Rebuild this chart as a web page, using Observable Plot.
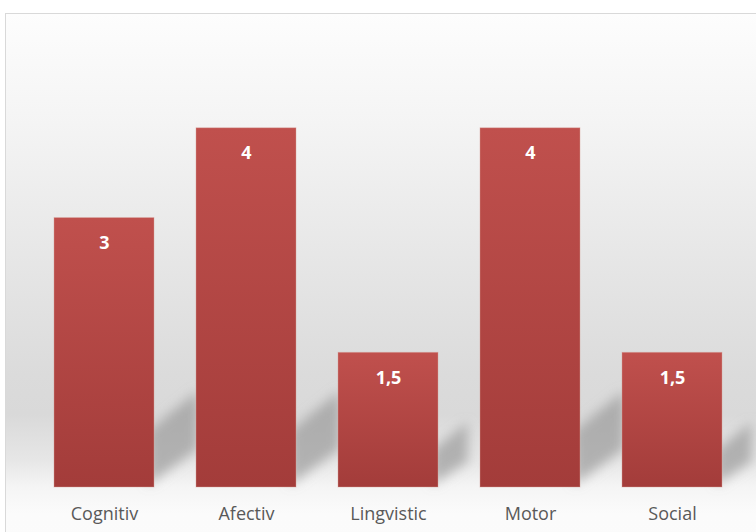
<!DOCTYPE html>
<html>
<head>
<meta charset="utf-8">
<script src="https://cdn.jsdelivr.net/npm/d3@7"></script>
<script src="https://cdn.jsdelivr.net/npm/@observablehq/plot@0.6"></script>
<style>
  html, body { margin: 0; padding: 0; background: #fff; overflow: hidden; }
  #frame {
    position: absolute; left: 5px; top: 13px; width: 800px; height: 600px;
    border: 1px solid #d9d9d9;
    background: linear-gradient(to bottom, #fdfdfd 0px, #f4f4f4 110px, #e6e6e6 250px, #dbdbdb 360px, #d9d9d9 400px, #e6e6e6 445px, #f5f5f5 474px, #fbfbfb 500px, #fcfcfc 100%);
  }
  #chart { position: absolute; left: 0; top: 0; }
</style>
</head>
<body>
<div id="frame"></div>
<div id="chart"></div>
<script>
const categories = ["Cognitiv", "Afectiv", "Lingvistic", "Motor", "Social"];
const values = [3, 4, 1.5, 4, 1.5];
const valueLabels = ["3", "4", "1,5", "4", "1,5"];

const data = categories.map((c, i) => ({cat: c, v: values[i], lab: valueLabels[i]}));

const font = "'Open Sans', Lato, 'DejaVu Sans', sans-serif";

function shadows(index, scales, vals, dims) {
  const ns = "http://www.w3.org/2000/svg";
  const g = document.createElementNS(ns, "g");
  const defs = document.createElementNS(ns, "defs");
  defs.innerHTML = `
    <filter id="shblur" x="-50%" y="-50%" width="200%" height="200%"><feGaussianBlur stdDeviation="6"/></filter>
    <linearGradient id="barGrad" x1="0" y1="0" x2="0" y2="1">
      <stop offset="0" stop-color="#c0504d"/>
      <stop offset="1" stop-color="#a33c3a"/>
    </linearGradient>`;
  g.appendChild(defs);
  const x = scales.x, y = scales.y;
  const bw = x.bandwidth ? x.bandwidth() : (typeof x.bandwidth === "number" ? x.bandwidth : 100);
  data.forEach(d => {
    const x1 = x(d.cat) + bw;
    const y0 = y(0);
    const h = y0 - y(d.v);
    const s = Math.min(60, 0.3 * h);
    const f = s / 60;
    const dx = 44 * f, rise = 36 * f, thick = 58 * f;
    const p = document.createElementNS(ns, "polygon");
    p.setAttribute("points", [
      [x1 - 6, y0 - s + 4], [x1 + dx, y0 - s - rise], [x1 + dx, y0 - s - rise + thick], [x1 - 6, y0 - 2]
    ].map(q => q.join(",")).join(" "));
    p.setAttribute("fill", "#9a9a9a");
    p.setAttribute("fill-opacity", "0.7");
    p.setAttribute("filter", "url(#shblur)");
    g.appendChild(p);
  });
  return g;
}

const plot = Plot.plot({
  width: 756,
  height: 532,
  marginLeft: 32,
  marginRight: 13,
  marginTop: 38,
  marginBottom: 45,
  style: {background: "transparent", fontFamily: font, overflow: "visible"},
  x: {domain: categories, paddingInner: 0.296, paddingOuter: 0.148, label: null, tickSize: 0, tickPadding: 20},
  y: {domain: [0, 5], axis: null},
  marks: [
    shadows,
    Plot.barY(data, {x: "cat", y: "v", fill: "url(#barGrad)", stroke: "#d9a09a", strokeOpacity: 0.5, strokeWidth: 0.8}),
    Plot.text(data, {x: "cat", y: "v", text: "lab", dy: 25, fill: "white", fontWeight: "bold", fontSize: 18, fontFamily: font}),
    Plot.axisX({tickSize: 0, tickPadding: 20, fontSize: 18, color: "#595959", label: null, fontFamily: font})
  ]
});
document.getElementById("chart").appendChild(plot);
</script>
</body>
</html>
